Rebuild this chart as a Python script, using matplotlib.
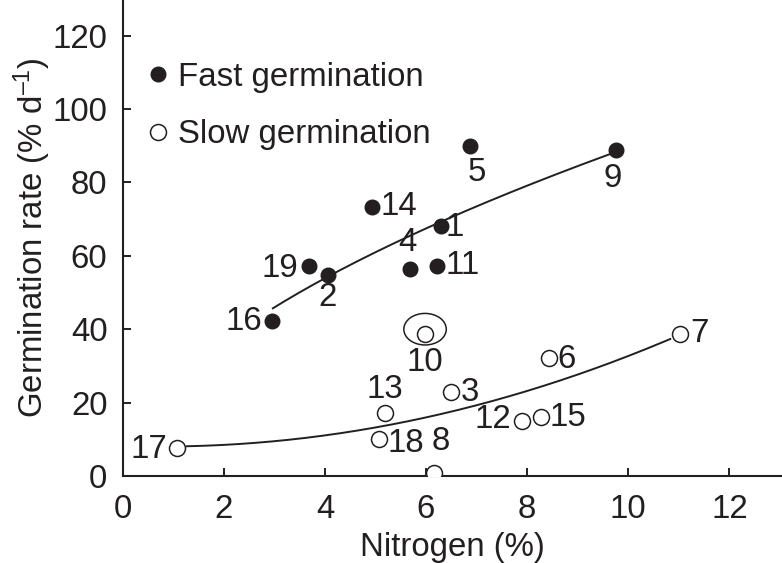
import matplotlib
matplotlib.use("Agg")
import matplotlib.pyplot as plt
import numpy as np
from matplotlib.patches import Ellipse

plt.rcParams['font.family'] = ['Liberation Sans', 'DejaVu Sans']
plt.rcParams['mathtext.fontset'] = 'custom'
plt.rcParams['mathtext.rm'] = 'Liberation Sans'
plt.rcParams['mathtext.it'] = 'Liberation Sans'

INK = '#231f20'

# Fast germination species
fast_ids = ['16', '19', '2', '14', '4', '1', '11', '5', '9']
fast_n = [2.96, 3.69, 4.07, 4.93, 5.68, 6.29, 6.22, 6.86, 9.76]
fast_rate = [42.1, 57.2, 54.8, 73.2, 56.5, 68.2, 57.3, 90.0, 88.8]

# Slow germination species
slow_ids = ['17', '13', '18', '8', '10', '3', '6', '12', '15', '7']
slow_n = [1.08, 5.18, 5.06, 6.15, 5.98, 6.49, 8.44, 7.89, 8.28, 11.02]
slow_rate = [7.5, 17.3, 10.0, 0.9, 38.7, 23.0, 32.2, 15.1, 16.2, 38.6]

# Fitted curves
fast_fit_a, fast_fit_b = 25.0, 0.554          # y = a * x**b
fast_fit_range = (2.97, 9.71)
slow_fit_c = (8.2, -0.44, 0.289)              # y = c0 + c1*x + c2*x**2
slow_fit_range = (1.27, 10.83)

# Label offsets in pixels (dx, dy, ha)
fast_offsets = {'16': (-10, 0, 'right'), '19': (-11, -2, 'right'), '2': (-1, -23, 'center'),
                '14': (9, 1, 'left'), '4': (-2, 26, 'center'), '1': (5, -2, 'left'),
                '11': (8, 0, 'left'), '5': (7, -27, 'center'), '9': (-3, -28, 'center')}
slow_offsets = {'17': (-10, -1, 'right'), '13': (0, 23, 'center'), '18': (9, -4, 'left'),
                '8': (7, 31, 'center'), '10': (0, -29, 'center'), '3': (10, -1, 'left'),
                '6': (8, -2, 'left'), '12': (-10, 1, 'right'), '15': (8, -1, 'left'),
                '7': (10, 1, 'left')}

fig = plt.figure(figsize=(7.82, 5.63), dpi=100)
ax = fig.add_axes([122.7 / 782, 87 / 563, 1 - 122.7 / 782, 1 - 87 / 563])

FS = 23.8

xf = np.linspace(*fast_fit_range, 200)
ax.plot(xf, fast_fit_a * xf ** fast_fit_b, color=INK, lw=1.4, zorder=2)
xs = np.linspace(*slow_fit_range, 200)
ax.plot(xs, slow_fit_c[0] + slow_fit_c[1] * xs + slow_fit_c[2] * xs ** 2, color=INK, lw=1.4, zorder=2)

ax.plot(fast_n, fast_rate, 'o', ms=10.5, color=INK, mec=INK, zorder=3, label='Fast germination')
ax.plot(slow_n, slow_rate, 'o', ms=11.5, mfc='white', mec=INK, mew=1.1, zorder=3,
        label='Slow germination')

for i, n, r in zip(fast_ids, fast_n, fast_rate):
    dx, dy, ha = fast_offsets[i]
    ax.annotate(i, (n, r), xytext=(dx, dy), textcoords='offset pixels', ha=ha, va='center',
                fontsize=FS, color=INK, zorder=4)
for i, n, r in zip(slow_ids, slow_n, slow_rate):
    dx, dy, ha = slow_offsets[i]
    ax.annotate(i, (n, r), xytext=(dx, dy), textcoords='offset pixels', ha=ha, va='center',
                fontsize=FS, color=INK, zorder=4)

# Ellipse around point 10
ax.add_patch(Ellipse((5.98, 40.0), 0.84, 8.6, fill=False, ec=INK, lw=1.1, zorder=3))

ax.set_xlim(0, 13.04)
ax.set_ylim(0, 129.7)
ax.set_xticks([0, 2, 4, 6, 8, 10, 12])
ax.set_yticks([0, 20, 40, 60, 80, 100, 120])
ax.tick_params(direction='in', length=6, width=1.4, colors=INK, labelsize=FS)
ax.tick_params(axis='x', pad=13)
ax.tick_params(axis='y', pad=11)
for s in ['top', 'right']:
    ax.spines[s].set_visible(False)
for s in ['left', 'bottom']:
    ax.spines[s].set_linewidth(1.5)
    ax.spines[s].set_color(INK)

ax.set_xlabel('Nitrogen (%)', fontsize=FS, color=INK, labelpad=5)
ax.set_ylabel(r'Germination rate (% d$^{\mathregular{–1}}$)', fontsize=FS, color=INK, labelpad=0)

leg = ax.legend(loc='upper left', bbox_to_anchor=(0.019, 0.898), frameon=False, fontsize=FS,
                handlelength=0.6, handletextpad=0.3, labelspacing=0.8, borderaxespad=0,
                labelcolor=INK)

fig.savefig('out.png', dpi=100)
